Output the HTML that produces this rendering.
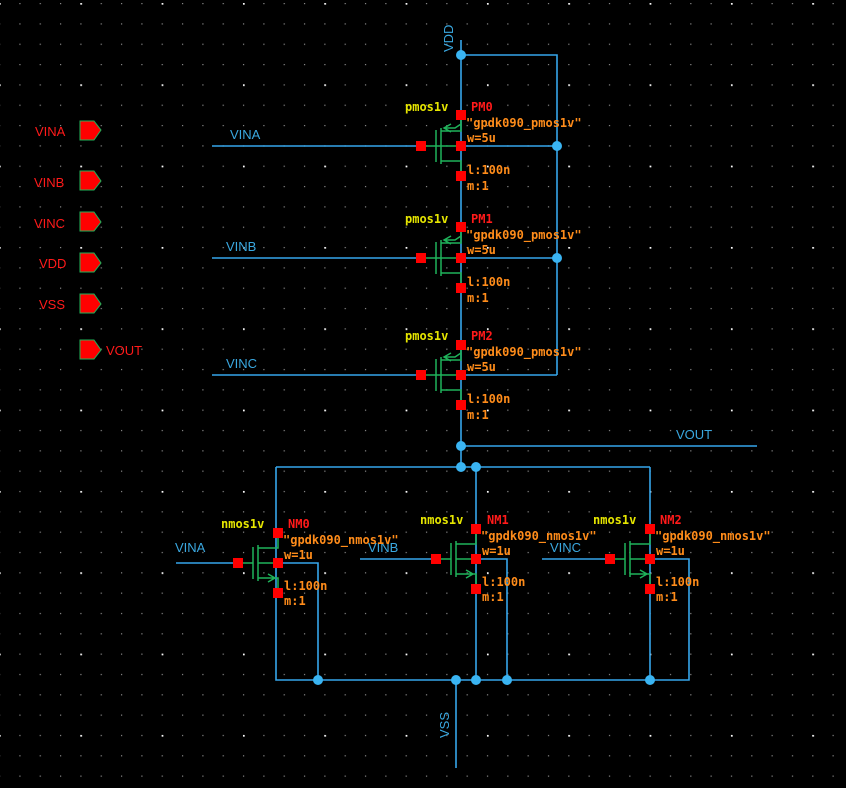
<!DOCTYPE html>
<html><head><meta charset="utf-8"><style>
html,body{margin:0;padding:0;background:#000;width:846px;height:788px;overflow:hidden}
svg{display:block}
text{font-family:"DejaVu Sans Mono","Liberation Mono",monospace;font-size:12px;font-weight:bold}
</style></head><body>
<svg width="846" height="788" viewBox="0 0 846 788" xmlns="http://www.w3.org/2000/svg">
<defs>
<pattern id="g" x="-1" y="3" width="20.33" height="20.33" patternUnits="userSpaceOnUse">
<rect x="0" y="0" width="1.2" height="1.2" fill="#8a8a8a"/></pattern>
<pattern id="G" x="-1" y="3" width="81.33" height="81.33" patternUnits="userSpaceOnUse">
<rect x="-0.5" y="-0.5" width="2.2" height="2.2" fill="#fff"/></pattern>
</defs>
<rect width="846" height="788" fill="url(#g)"/>
<rect width="846" height="788" fill="url(#G)"/>

<g stroke="#36a6ea" stroke-width="1.6" fill="none">
<path d="M461 40 V467 M461 55 H557 V375 M461 146 H557 M461 258 H557 M461 375 H557"/>
<path d="M212 146 H421 M212 258 H421 M212 375 H421"/>
<path d="M461 446 H757"/>
<path d="M276 467 H650 M276 467 V680 H689 V559 H650"/>
<path d="M476 467 V680 M650 467 V680"/>
<path d="M278 563 H318 V680 M476 559 H507 V680"/>
<path d="M176 563 H238 M360 559 H436 M542 559 H610"/>
<path d="M456 680 V768"/>
</g>

<g stroke="#1fb35a" stroke-width="1.5" fill="none">
<g id="p0"><path d="M436 130 V162 M441 128 V164 M441 131 H461 V116 M441 161 H461 V176 M441 146 H461 M441 146 L436 146 M423 146 H436 M451 124 L444 128 L451 132 M444 128 H455 L461 124"/></g>
<use href="#p0" y="112"/>
<use href="#p0" y="229"/>
<g id="n0"><path d="M253 547 V579 M258 545 V581 M258 548 H278 V533 M258 578 H278 V593 M258 563 H278 M240 563 H253 M268 574 L275 578 L268 582"/></g>
<use href="#n0" x="198" y="-4"/>
<use href="#n0" x="372" y="-4"/>
</g>

<g fill="#ff0000">
<rect x="456" y="110" width="10" height="10"/><rect x="456" y="141" width="10" height="10"/><rect x="456" y="171" width="10" height="10"/><rect x="416" y="141" width="10" height="10"/>
<rect x="456" y="222" width="10" height="10"/><rect x="456" y="253" width="10" height="10"/><rect x="456" y="283" width="10" height="10"/><rect x="416" y="253" width="10" height="10"/>
<rect x="456" y="340" width="10" height="10"/><rect x="456" y="370" width="10" height="10"/><rect x="456" y="400" width="10" height="10"/><rect x="416" y="370" width="10" height="10"/>
<rect x="273" y="528" width="10" height="10"/><rect x="273" y="558" width="10" height="10"/><rect x="273" y="588" width="10" height="10"/><rect x="233" y="558" width="10" height="10"/>
<rect x="471" y="524" width="10" height="10"/><rect x="471" y="554" width="10" height="10"/><rect x="471" y="584" width="10" height="10"/><rect x="431" y="554" width="10" height="10"/>
<rect x="645" y="524" width="10" height="10"/><rect x="645" y="554" width="10" height="10"/><rect x="645" y="584" width="10" height="10"/><rect x="605" y="554" width="10" height="10"/>
</g>

<g fill="#3ab4f2">
<circle cx="461" cy="55" r="5"/><circle cx="557" cy="146" r="5"/><circle cx="557" cy="258" r="5"/>
<circle cx="461" cy="446" r="5"/><circle cx="461" cy="467" r="5"/><circle cx="476" cy="467" r="5"/>
<circle cx="318" cy="680" r="5"/><circle cx="456" cy="680" r="5"/><circle cx="476" cy="680" r="5"/><circle cx="507" cy="680" r="5"/><circle cx="650" cy="680" r="5"/>
</g>

<g fill="#ff0000" stroke="#1fb35a" stroke-width="1">
<path d="M80 121 H94 L101 130 L94 140 H80 Z"/>
<path d="M80 171 H94 L101 181 L94 190 H80 Z"/>
<path d="M80 212 H94 L101 222 L94 231 H80 Z"/>
<path d="M80 253 H94 L101 263 L94 272 H80 Z"/>
<path d="M80 294 H94 L101 304 L94 313 H80 Z"/>
<path d="M80 340 H94 L101 350 L94 359 H80 Z"/>
</g>
<g fill="#ff1a1a">
<text x="35" y="136" style="font-family:'Liberation Sans',sans-serif;font-size:13px;font-weight:normal">VINA</text>
<text x="34" y="187" style="font-family:'Liberation Sans',sans-serif;font-size:13px;font-weight:normal">VINB</text>
<text x="34" y="228" style="font-family:'Liberation Sans',sans-serif;font-size:13px;font-weight:normal">VINC</text>
<text x="39" y="268" style="font-family:'Liberation Sans',sans-serif;font-size:13px;font-weight:normal">VDD</text>
<text x="39" y="309" style="font-family:'Liberation Sans',sans-serif;font-size:13px;font-weight:normal">VSS</text>
<text x="106" y="355" style="font-family:'Liberation Sans',sans-serif;font-size:13px;font-weight:normal">VOUT</text>
</g>

<g fill="#3aa8e0" style="font-family:'Liberation Sans',sans-serif">
<text x="230" y="139" style="font-family:'Liberation Sans',sans-serif;font-size:13px;font-weight:normal">VINA</text>
<text x="226" y="251" style="font-family:'Liberation Sans',sans-serif;font-size:13px;font-weight:normal">VINB</text>
<text x="226" y="368" style="font-family:'Liberation Sans',sans-serif;font-size:13px;font-weight:normal">VINC</text>
<text x="676" y="439" style="font-family:'Liberation Sans',sans-serif;font-size:13px;font-weight:normal">VOUT</text>
<text x="175" y="552" style="font-family:'Liberation Sans',sans-serif;font-size:13px;font-weight:normal">VINA</text>
<text x="368" y="552" style="font-family:'Liberation Sans',sans-serif;font-size:13px;font-weight:normal">VINB</text>
<text x="550" y="552" style="font-family:'Liberation Sans',sans-serif;font-size:13px;font-weight:normal">VINC</text>
<text transform="translate(453,52) rotate(-90)" style="font-family:'Liberation Sans',sans-serif;font-size:13px;font-weight:normal">VDD</text>
<text transform="translate(449,738) rotate(-90)" style="font-family:'Liberation Sans',sans-serif;font-size:13px;font-weight:normal">VSS</text>
</g>

<g>
<text x="405" y="111" fill="#e6e600">pmos1v</text>
<text x="471" y="111" fill="#ff1a1a">PM0</text>
<text x="466" y="127" fill="#ff8c1a">"gpdk090_pmos1v"</text>
<text x="467" y="142" fill="#ff8c1a">w=5u</text>
<text x="467" y="174" fill="#ff8c1a">l:100n</text>
<text x="467" y="190" fill="#ff8c1a">m:1</text>
<text x="405" y="223" fill="#e6e600">pmos1v</text><text x="471" y="223" fill="#ff1a1a">PM1</text>
<text x="466" y="239" fill="#ff8c1a">"gpdk090_pmos1v"</text><text x="467" y="254" fill="#ff8c1a">w=5u</text>
<text x="467" y="286" fill="#ff8c1a">l:100n</text><text x="467" y="302" fill="#ff8c1a">m:1</text>
<text x="405" y="340" fill="#e6e600">pmos1v</text><text x="471" y="340" fill="#ff1a1a">PM2</text>
<text x="466" y="356" fill="#ff8c1a">"gpdk090_pmos1v"</text><text x="467" y="371" fill="#ff8c1a">w=5u</text>
<text x="467" y="403" fill="#ff8c1a">l:100n</text><text x="467" y="419" fill="#ff8c1a">m:1</text>

<text x="221" y="528" fill="#e6e600">nmos1v</text><text x="288" y="528" fill="#ff1a1a">NM0</text>
<text x="283" y="544" fill="#ff8c1a">"gpdk090_nmos1v"</text><text x="284" y="559" fill="#ff8c1a">w=1u</text>
<text x="284" y="590" fill="#ff8c1a">l:100n</text><text x="284" y="605" fill="#ff8c1a">m:1</text>

<text x="420" y="524" fill="#e6e600">nmos1v</text><text x="487" y="524" fill="#ff1a1a">NM1</text>
<text x="481" y="540" fill="#ff8c1a">"gpdk090_nmos1v"</text><text x="482" y="555" fill="#ff8c1a">w=1u</text>
<text x="482" y="586" fill="#ff8c1a">l:100n</text><text x="482" y="601" fill="#ff8c1a">m:1</text>

<text x="593" y="524" fill="#e6e600">nmos1v</text><text x="660" y="524" fill="#ff1a1a">NM2</text>
<text x="655" y="540" fill="#ff8c1a">"gpdk090_nmos1v"</text><text x="656" y="555" fill="#ff8c1a">w=1u</text>
<text x="656" y="586" fill="#ff8c1a">l:100n</text><text x="656" y="601" fill="#ff8c1a">m:1</text>
</g>
</svg>
</body></html>
